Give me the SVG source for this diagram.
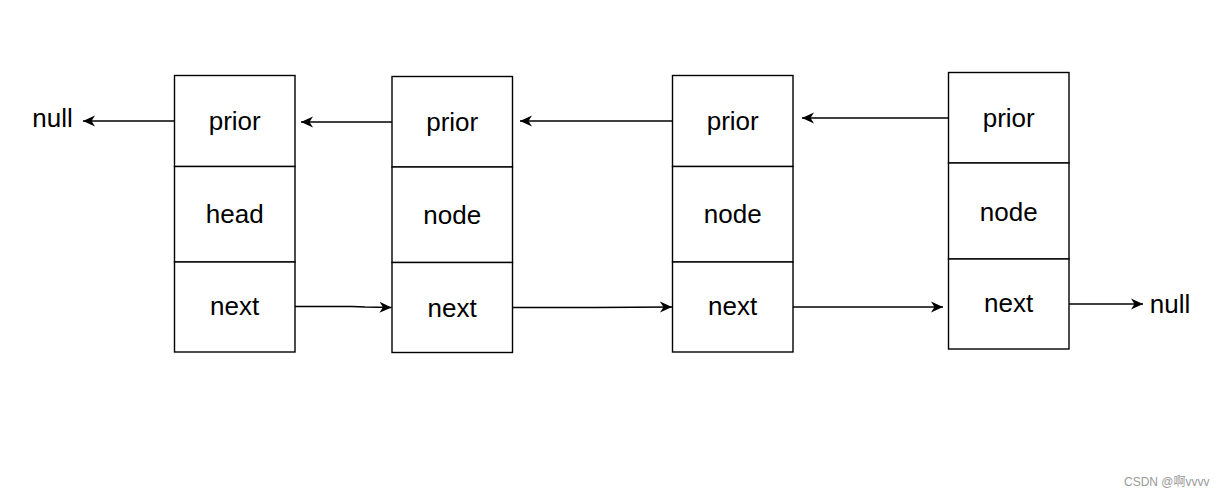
<svg xmlns="http://www.w3.org/2000/svg" width="1224" height="498" viewBox="0 0 1224 498">
<style>
.cell{fill:#fff;stroke:#000;stroke-width:1.4}
.t{font-family:"Liberation Sans",Arial,sans-serif;font-size:26px;fill:#000;text-anchor:middle;dominant-baseline:central}
.e{fill:none;stroke:#000;stroke-width:1.5}
.wm{font-family:"Liberation Sans","Noto Sans CJK SC",sans-serif;font-size:12px;fill:#999}
</style>
<defs>
<marker id="arr" markerUnits="userSpaceOnUse" markerWidth="14" markerHeight="12" refX="12" refY="6" orient="auto">
<path d="M0,0.5 L12,6 L0,11.5 L3.5,6 Z" fill="#000"/>
</marker>
</defs>
<rect width="1224" height="498" fill="#fff"/>
<g id="node-head">
<rect class="cell" x="174.5" y="75.5" width="120.5" height="91"/>
<rect class="cell" x="174.5" y="166.5" width="120.5" height="95.5"/>
<rect class="cell" x="174.5" y="262" width="120.5" height="90"/>
<text class="t" x="234.7" y="121">prior</text>
<text class="t" x="234.7" y="214">head</text>
<text class="t" x="234.7" y="306">next</text>
</g>
<g id="node-2">
<rect class="cell" x="392" y="76.5" width="120.5" height="90.5"/>
<rect class="cell" x="392" y="167" width="120.5" height="95.5"/>
<rect class="cell" x="392" y="262.5" width="120.5" height="90"/>
<text class="t" x="452.2" y="122">prior</text>
<text class="t" x="452.2" y="214.5">node</text>
<text class="t" x="452.2" y="308">next</text>
</g>
<g id="node-3">
<rect class="cell" x="672.5" y="75.5" width="120.5" height="91"/>
<rect class="cell" x="672.5" y="166.5" width="120.5" height="95.5"/>
<rect class="cell" x="672.5" y="262" width="120.5" height="90"/>
<text class="t" x="732.7" y="121">prior</text>
<text class="t" x="732.7" y="214">node</text>
<text class="t" x="732.7" y="306">next</text>
</g>
<g id="node-4">
<rect class="cell" x="948.5" y="72.5" width="120.5" height="90.5"/>
<rect class="cell" x="948.5" y="163" width="120.5" height="96"/>
<rect class="cell" x="948.5" y="259" width="120.5" height="90"/>
<text class="t" x="1008.7" y="118">prior</text>
<text class="t" x="1008.7" y="212">node</text>
<text class="t" x="1008.7" y="303">next</text>
</g>
<g id="null-left">
<text class="t" x="52.5" y="118">null</text>
</g>
<g id="null-right">
<text class="t" x="1170" y="304">null</text>
</g>
<g id="connectors">
<path class="e" d="M174.5,121 L83,121" marker-end="url(#arr)"/>
<path class="e" d="M392,122 L301,122" marker-end="url(#arr)"/>
<path class="e" d="M672.5,121 L520,121" marker-end="url(#arr)"/>
<path class="e" d="M948.5,118 L802,118" marker-end="url(#arr)"/>
<path class="e" d="M295,306.5 L352,306.5 Q360,306.5 365,307 L391.5,307.5" marker-end="url(#arr)"/>
<path class="e" d="M512.5,307.5 L595,307.5 L672,307" marker-end="url(#arr)"/>
<path class="e" d="M793,307 L943,307" marker-end="url(#arr)"/>
<path class="e" d="M1069,304 L1143,304" marker-end="url(#arr)"/>
</g>
<text class="wm" x="1124" y="486">CSDN @啊vvvv</text>
</svg>
